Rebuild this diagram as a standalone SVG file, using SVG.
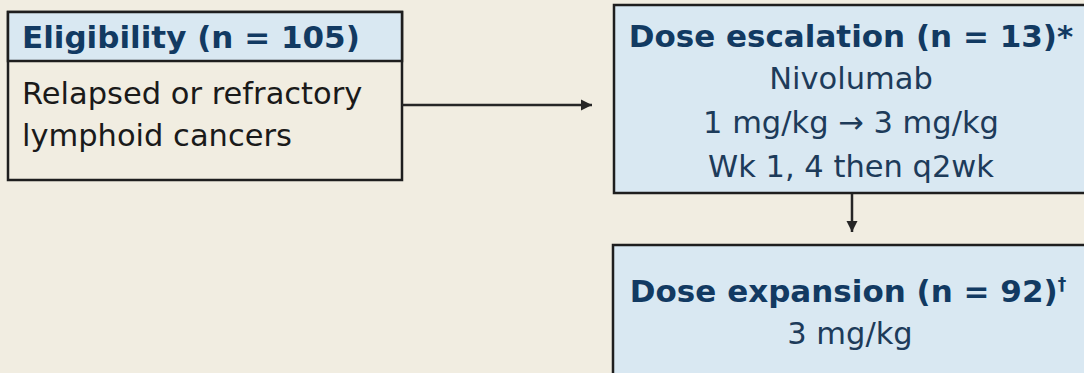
<svg xmlns="http://www.w3.org/2000/svg" width="1084" height="373" viewBox="0 0 1084 373">
<style>
.box{fill:#d9e8f2;stroke:#1e1e1e;stroke-width:2.5}
.plain{fill:#f1ede1;stroke:#1e1e1e;stroke-width:2.5}
.hd{font-family:"DejaVu Sans",Verdana,sans-serif;font-weight:bold;font-size:31px;fill:#123a62}
.bd{font-family:"DejaVu Sans",Verdana,sans-serif;font-size:30.5px;fill:#1d3b5a}
.bk{font-family:"DejaVu Sans",Verdana,sans-serif;font-size:30.5px;fill:#1a1a1a}
.conn{stroke:#262626;stroke-width:2.5;fill:none}
</style>
<defs>
<marker id="ah" viewBox="0 0 10 10" refX="10" refY="5" markerWidth="4.6" markerHeight="4.6" orient="auto" markerUnits="strokeWidth">
<path d="M0,0 L10,5 L0,10 z" fill="#262626"/>
</marker>
</defs>
<rect width="1084" height="373" fill="#f1ede1"/>
<g id="eligibility">
<rect class="plain" x="8" y="12" width="394" height="168"/>
<rect class="box" x="8" y="12" width="394" height="49"/>
<text class="hd" x="22" y="48">Eligibility (n = 105)</text>
<text class="bk" x="22" y="104">Relapsed or refractory</text>
<text class="bk" x="22" y="146">lymphoid cancers</text>
</g>
<g id="escalation">
<rect class="box" x="614" y="5" width="480" height="188"/>
<text class="hd" x="851" y="47" text-anchor="middle">Dose escalation (n = 13)*</text>
<text class="bd" x="851" y="89" text-anchor="middle">Nivolumab</text>
<text class="bd" x="851" y="133" text-anchor="middle">1 mg/kg → 3 mg/kg</text>
<text class="bd" x="851" y="177" text-anchor="middle">Wk 1, 4 then q2wk</text>
</g>
<g id="expansion">
<rect class="box" x="613" y="245" width="480" height="140"/>
<text class="hd" x="848" y="302" text-anchor="middle">Dose expansion (n = 92)<tspan font-size="17" dy="-12">†</tspan></text>
<text class="bd" x="850" y="344" text-anchor="middle">3 mg/kg</text>
</g>
<g id="connectors">
<path class="conn" d="M402,105 H592" marker-end="url(#ah)"/>
<path class="conn" d="M852,194 V232" marker-end="url(#ah)"/>
</g>
</svg>
